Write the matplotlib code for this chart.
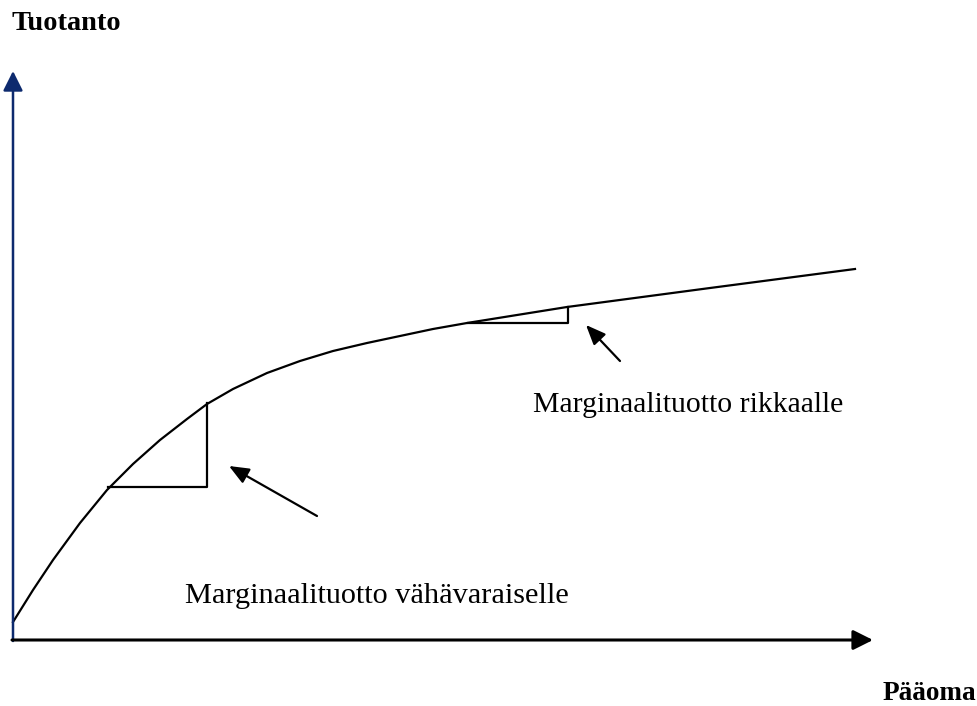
import matplotlib.pyplot as plt

# production curve (units: pixels from the axis origin)
capital = [0, 20, 40, 67, 94, 120, 147, 174, 194, 220, 254, 287, 320,
           354, 387, 420, 454, 554, 697, 842]
output = [18, 50, 80, 117, 150, 176, 200, 221, 236, 251, 267, 279, 289,
          297, 304, 311, 317, 333, 352, 371]

# marginal product triangles: (x_left, x_right, y_low, y_high)
tri_poor = (95, 194, 153, 237)
tri_rich = (455, 555, 317, 333)

# pointer arrows: (tail, head)
arrow_poor = ((304, 124), (216, 174))
arrow_rich = ((607, 279), (573, 315))

X_END, Y_END = 858, 569

fig = plt.figure(figsize=(9.77, 7.06), dpi=100)
ax = fig.add_axes([0, 0, 1, 1])
ax.set_xlim(-13, 964)
ax.set_ylim(-66, 640)
ax.axis("off")

serif = ["Liberation Serif", "DejaVu Serif"]
navy = "#0d2a6e"

# axes with arrow heads
ax.annotate("", xy=(0, Y_END), xytext=(0, -1),
            arrowprops=dict(arrowstyle="-|>,head_length=0.6,head_width=0.3",
                            mutation_scale=20, lw=1.8, color=navy,
                            shrinkA=0, shrinkB=0))
ax.annotate("", xy=(X_END + 2, 0), xytext=(-1, 0),
            arrowprops=dict(arrowstyle="-|>,head_length=0.6,head_width=0.3",
                            mutation_scale=20, lw=2.2, color="black",
                            shrinkA=0, shrinkB=0))

ax.plot(capital, output, color="black", lw=1.6, solid_joinstyle="round")

for x0, x1, y0, y1 in (tri_poor, tri_rich):
    ax.plot([x0, x1, x1], [y0, y0, y1], color="black", lw=1.6)

for tail, head in (arrow_poor, arrow_rich):
    ax.annotate("", xy=head, xytext=tail,
                arrowprops=dict(arrowstyle="-|>,head_length=0.6,head_width=0.25",
                                mutation_scale=20, lw=1.6, color="black",
                                shrinkA=0, shrinkB=0))

ax.text(-1, 610, "Tuotanto", family=serif, fontweight="bold", fontsize=20.4,
        va="baseline", ha="left")
ax.text(870, -60, "Pääoma", family=serif, fontweight="bold", fontsize=19.6,
        va="baseline", ha="left")
ax.text(520, 228, "Marginaalituotto rikkaalle", family=serif, fontsize=21.4,
        va="baseline", ha="left")
ax.text(172, 37, "Marginaalituotto vähävaraiselle", family=serif, fontsize=21.8,
        va="baseline", ha="left")

fig.savefig("out.png", dpi=100)
